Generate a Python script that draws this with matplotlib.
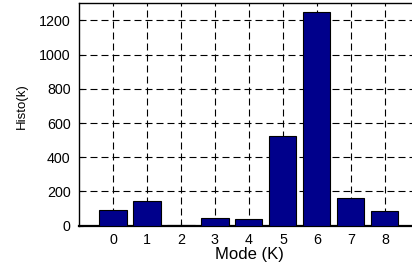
import matplotlib
matplotlib.use("Agg")
import matplotlib.pyplot as plt

modes = [0, 1, 2, 3, 4, 5, 6, 7, 8]
histo = [90, 143, 2, 43, 37, 523, 1247, 160, 86]
yticks = [0, 200, 400, 600, 800, 1000, 1200]

plt.rcParams['font.family'] = ['Liberation Sans', 'DejaVu Sans']
fig = plt.figure(figsize=(4.12, 2.67), dpi=100)
ax = fig.add_axes([79/412, 1-225.7/267, 1-79/412, (225.7-3.3)/267])
ax.bar(modes, histo, width=0.8, color='#00008B', edgecolor='black', linewidth=0.8, zorder=3)
ax.set_xlim(-1, 8.8)
ax.set_ylim(0, 1300)
ax.set_xticks(modes)
ax.set_yticks(yticks)
ax.grid(True, color='black', linestyle=(0, (6.3, 3.6)), linewidth=0.8, zorder=0)
ax.set_axisbelow(True)
ax.spines['right'].set_visible(False)
ax.spines['bottom'].set_linewidth(1.6)
for s in ['left', 'top']:
    ax.spines[s].set_linewidth(1.0)
ax.tick_params(axis='both', labelsize=10.3, direction='in', length=3, width=0.8, colors='black')
ax.tick_params(axis='y', pad=6)
ax.tick_params(axis='x', pad=5)
ax.set_xlabel('Mode (K)', fontsize=12)
ax.xaxis.set_label_coords(0.512, -0.095)
ax.set_ylabel('Histo(k)', fontsize=9.5)
ax.yaxis.set_label_coords(-0.155, 0.536)
fig.savefig('out.png', dpi=100)
